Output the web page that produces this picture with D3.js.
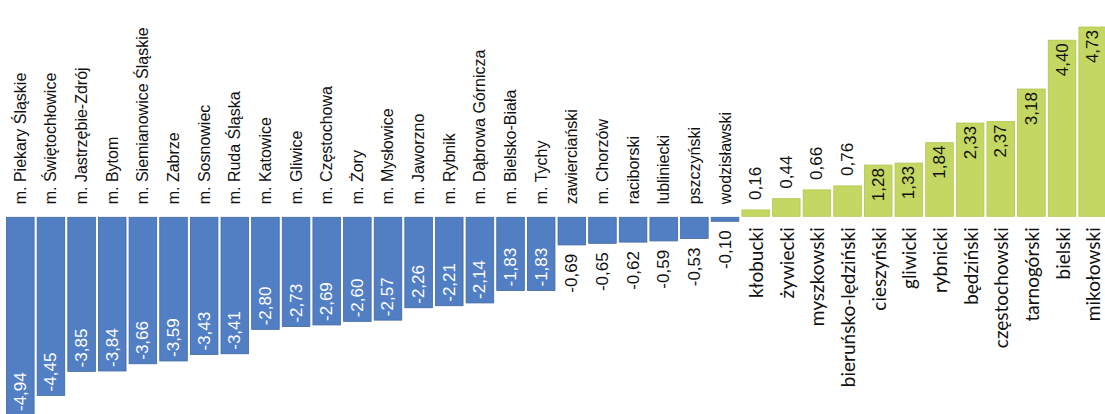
<!DOCTYPE html>
<html>
<head>
<meta charset="utf-8">
<script src="https://cdn.jsdelivr.net/npm/d3@7"></script>
<style>
  body { margin: 0; background: #fff; }
  svg { display: block; }
</style>
</head>
<body>
<div id="chart"></div>
<script>
// powiaty / miasta na prawach powiatu
const categories = [
  "m. Piekary Śląskie", "m. Świętochłowice", "m. Jastrzębie-Zdrój", "m. Bytom",
  "m. Siemianowice Śląskie", "m. Zabrze", "m. Sosnowiec", "m. Ruda Śląska",
  "m. Katowice", "m. Gliwice", "m. Częstochowa", "m. Żory", "m. Mysłowice",
  "m. Jaworzno", "m. Rybnik", "m. Dąbrowa Górnicza", "m. Bielsko-Biała", "m. Tychy",
  "zawierciański", "m. Chorzów", "raciborski", "lubliniecki", "pszczyński", "wodzisławski",
  "kłobucki", "żywiecki", "myszkowski", "bieruńsko-lędziński", "cieszyński", "gliwicki",
  "rybnicki", "będziński", "częstochowski", "tarnogórski", "bielski", "mikołowski"
];
const values = [
  -4.94, -4.45, -3.85, -3.84, -3.66, -3.59, -3.43, -3.41,
  -2.80, -2.73, -2.69, -2.60, -2.57, -2.26, -2.21, -2.14, -1.83, -1.83,
  -0.69, -0.65, -0.62, -0.59, -0.53, -0.10,
  0.16, 0.44, 0.66, 0.76, 1.28, 1.33, 1.84, 2.33, 2.37, 3.18, 4.40, 4.73
];

const width = 1105;
const height = 414;

const data = categories.map((c, i) => ({ name: c, value: values[i] }));
const fmt = v => v.toFixed(2).replace(".", ",");

const svg = d3.select("#chart").append("svg").attr("width", width).attr("height", height);

const x = d3.scaleBand().domain(categories).range([5, 1108]).paddingInner(0.1).paddingOuter(0.05);
const y = d3.scaleLinear().domain([-4.94, 4.73]).range([414, 27]);
const y0 = y(0);

// słupki
svg.selectAll(".bar")
  .data(data)
  .enter().append("rect")
  .attr("class", "bar")
  .attr("x", d => x(d.name))
  .attr("width", x.bandwidth())
  .attr("y", d => d.value < 0 ? y0 + 1 : y(d.value))
  .attr("height", d => Math.abs(y(d.value) - y0))
  .attr("fill", d => d.value < 0 ? "#527ec4" : "#c4d763")
  .attr("stroke", d => d.value < 0 ? "#41699f" : "#b2c552")
  .attr("stroke-width", 0.8);

// nazwy
svg.selectAll(".cat")
  .data(data)
  .enter().append("text")
  .attr("class", "cat")
  .attr("transform", d => {
    const cx = x(d.name) + x.bandwidth() / 2;
    const yy = d.value < 0 ? y0 - 12 : y0 + 11;
    return `translate(${cx},${yy}) rotate(-90)`;
  })
  .attr("text-anchor", d => d.value < 0 ? "start" : "end")
  .attr("dominant-baseline", "central")
  .attr("font-family", d => d.value < 0 ? "'Liberation Sans', Arial, sans-serif" : "Lato, 'Open Sans', sans-serif")
  .attr("font-size", d => d.value < 0 ? 16 : 19)
  .attr("fill", "#111")
  .text(d => d.name);

// wartości
svg.selectAll(".val")
  .data(data)
  .enter().append("text")
  .attr("class", "val")
  .attr("transform", d => {
    const cx = x(d.name) + x.bandwidth() / 2;
    const yv = y(d.value);
    let yy;
    if (d.value < 0) yy = Math.abs(d.value) >= 1 ? yv - 3 : yv + 10;
    else yy = d.value >= 1 ? yv + 3 : yv - 10;
    return `translate(${cx},${yy}) rotate(-90)`;
  })
  .attr("text-anchor", d => {
    const inside = Math.abs(d.value) >= 1;
    if (d.value < 0) return inside ? "start" : "end";
    return inside ? "end" : "start";
  })
  .attr("dominant-baseline", "central")
  .attr("font-family", "'Liberation Sans', Arial, sans-serif")
  .attr("font-size", 17)
  .attr("fill", d => d.value < 0 && Math.abs(d.value) >= 1 ? "#ffffff" : "#111")
  .text(d => fmt(d.value));
</script>
</body>
</html>
